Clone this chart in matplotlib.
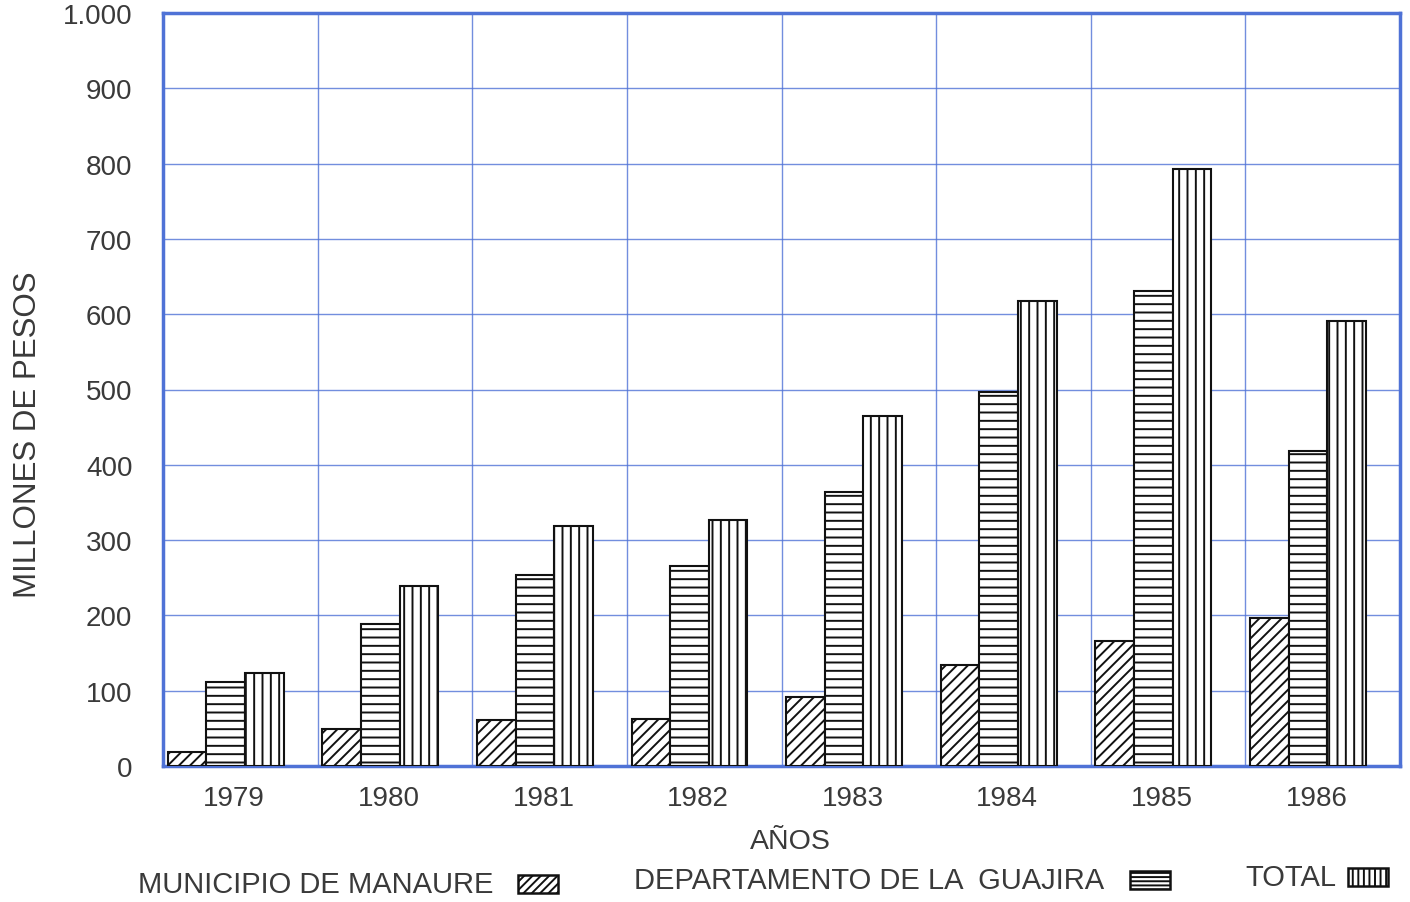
import matplotlib
matplotlib.use("Agg")
import matplotlib.pyplot as plt
from matplotlib.patches import Rectangle
import numpy as np

# valores (millones de pesos)
years = ["1979", "1980", "1981", "1982", "1983", "1984", "1985", "1986"]
manaure = [19, 49, 61, 62, 92, 134, 166, 197]
guajira = [111, 188, 254, 266, 364, 497, 631, 418]
total = [123, 239, 319, 327, 465, 618, 793, 591]
yticks = [0, 100, 200, 300, 400, 500, 600, 700, 800, 900, 1000]
ylabels = ["0", "100", "200", "300", "400", "500", "600", "700", "800", "900", "1.000"]
series = ["MUNICIPIO DE MANAURE", "DEPARTAMENTO DE LA  GUAJIRA", "TOTAL"]
hatches = ["///", "--", "||"]
legend_hatches = ["////", "----", "|||"]

blue = "#4f72d6"
txt = "#3a3a3a"
plt.rcParams["font.family"] = ["Liberation Sans", "DejaVu Sans"]
plt.rcParams["hatch.linewidth"] = 1.4
plt.rcParams["hatch.color"] = "#111111"

W, H = 1410, 903
fig = plt.figure(figsize=(W / 100, H / 100), dpi=100)
ax = fig.add_axes([163 / W, 1 - 767 / H, 1237 / W, 753 / H])

x = np.arange(len(years))
w = 0.25
off = 0.03
for k, vals in enumerate([manaure, guajira, total]):
    ax.bar(x + off + k * w, vals, w, align="edge", facecolor="white",
           edgecolor="#111111", linewidth=1.5, hatch=hatches[k], zorder=3)

ax.set_xlim(0, len(years))
ax.set_ylim(0, 1000)
ax.set_xticks(x + 0.46)
ax.set_xticklabels(years)
ax.set_yticks(yticks)
ax.set_yticklabels(ylabels)
ax.tick_params(length=0, labelsize=20, colors=txt, pad=14)
ax.tick_params(axis="y", pad=22)

for i in range(1, len(years)):
    ax.axvline(i, color=blue, linewidth=1.0, alpha=0.8, zorder=1)
for v in yticks[1:-1]:
    ax.axhline(v, color=blue, linewidth=1.0, alpha=0.8, zorder=1)
for s in ax.spines.values():
    s.set_color(blue)
    s.set_linewidth(2.5)

fig.text(790 / W, 1 - 842 / H, "AÑOS", fontsize=20.5, color=txt, ha="center", va="center")
fig.text(28 / W, 1 - 435 / H, "MILLONES DE PESOS", fontsize=22.5, color=txt,
         rotation=90, ha="center", va="center")

# leyenda: texto y muestra de trama a la derecha
text_x = [138, 634, 1245]
text_y = [885, 881, 878]
patch_x = [518, 1130, 1348]
for k in range(3):
    fig.text(text_x[k] / W, 1 - text_y[k] / H, series[k], fontsize=21, color=txt,
             ha="left", va="center")
    fig.patches.append(Rectangle((patch_x[k] / W, 1 - (text_y[k] + 9) / H), 40 / W, 18 / H,
                                 transform=fig.transFigure, facecolor="white",
                                 edgecolor="#111111", linewidth=1.8,
                                 hatch=legend_hatches[k]))

fig.savefig("out.png", dpi=100)
